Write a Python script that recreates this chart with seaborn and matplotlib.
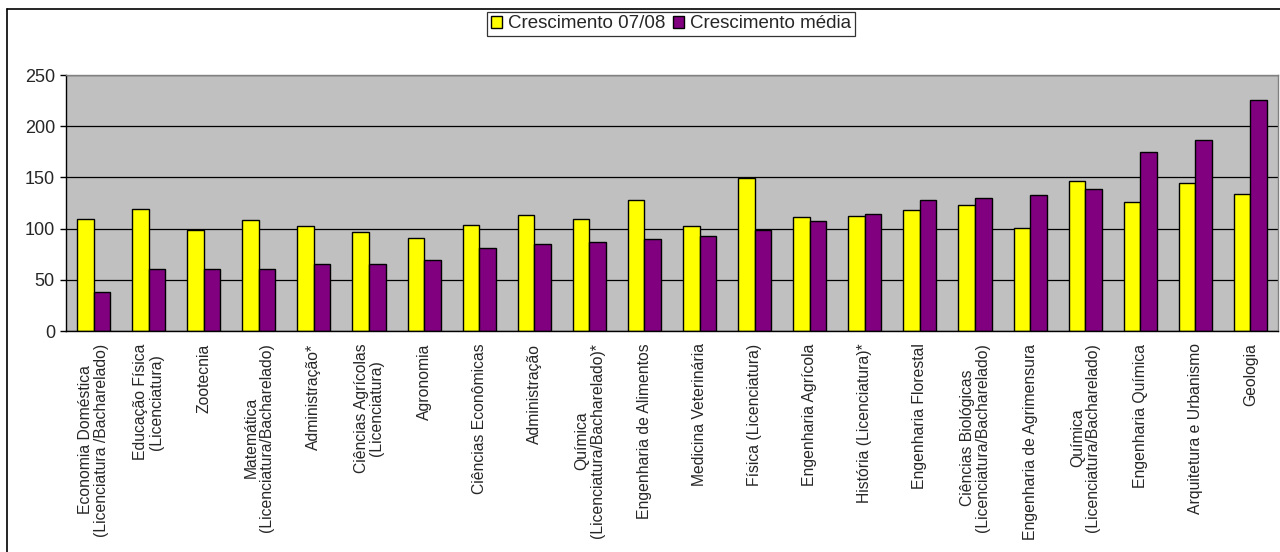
import matplotlib
matplotlib.use("Agg")
import matplotlib.pyplot as plt
import numpy as np
import pandas as pd
import seaborn as sns
from matplotlib.lines import Line2D

#####################################
# Data
#####################################

courses = [
    "Economia Doméstica\n(Licenciatura /Bacharelado)",
    "Educação Física\n(Licenciatura)",
    "Zootecnia",
    "Matemática\n(Licenciatura/Bacharelado)",
    "Administração*",
    "Ciências Agrícolas\n(Licenciatura)",
    "Agronomia",
    "Ciências Econômicas",
    "Administração",
    "Química\n(Licenciatura/Bacharelado)*",
    "Engenharia de Alimentos",
    "Medicina Veterinária",
    "Física (Licenciatura)",
    "Engenharia Agrícola",
    "História (Licenciatura)*",
    "Engenharia Florestal",
    "Ciências Biológicas\n(Licenciatura/Bacharelado)",
    "Engenharia de Agrimensura",
    "Química\n(Licenciatura/Bacharelado)",
    "Engenharia Química",
    "Arquitetura e Urbanismo",
    "Geologia",
]
growth_0708 = [109, 119, 99, 108, 103, 97, 91, 104, 113, 109, 128, 103,
               149, 111, 112, 118, 123, 101, 146, 126, 145, 134]
growth_mean = [38, 61, 61, 61, 65, 65, 69, 81, 85, 87, 90, 93,
               99, 107, 114, 128, 130, 133, 139, 175, 187, 226]
series_names = ["Crescimento 07/08", "Crescimento média"]
y_ticks = [0, 50, 100, 150, 200, 250]

#####################################
# Plot
#####################################

df = pd.DataFrame({
    "curso": courses * 2,
    "valor": growth_0708 + growth_mean,
    "serie": [series_names[0]] * len(courses) + [series_names[1]] * len(courses),
})

sns.set_style("white")
plt.rcParams["font.family"] = ["Liberation Sans", "DejaVu Sans"]

fig = plt.figure(figsize=(12.8, 5.52), dpi=100)
ax = fig.add_axes([66 / 1280, 1 - 331 / 552, (1278 - 66) / 1280, (331 - 75) / 552])

sns.barplot(
    data=df, x="curso", y="valor", hue="serie",
    palette=["#FFFF00", "#800080"], width=0.6,
    edgecolor="black", linewidth=1.0, saturation=1, ax=ax, legend=True,
)

ax.set_facecolor("#C0C0C0")
ax.set_ylim(0, 250)
ax.set_xlim(-0.5, len(courses) - 0.5)
ax.set_yticks(y_ticks)
ax.set_yticklabels([str(t) for t in y_ticks], fontsize=13)
ax.yaxis.grid(True, color="black", linewidth=0.9)
ax.set_axisbelow(True)
ax.set_xlabel("")
ax.set_ylabel("")

# category labels centred, tick marks between categories
ax.set_xticks(range(len(courses)))
ax.set_xticklabels(courses, rotation=90, fontsize=11.3, ha="center", va="top",
                   multialignment="center", linespacing=1.05)
ax.tick_params(axis="x", which="major", length=0, pad=9)
ax.set_xticks(np.arange(-0.5, len(courses), 1), minor=True)
ax.tick_params(axis="x", which="minor", length=5, color="black", width=1, direction="out")
ax.tick_params(axis="y", length=4, color="black", width=1, direction="out", left=True, pad=4)

for side in ["left", "bottom"]:
    ax.spines[side].set_color("black")
    ax.spines[side].set_linewidth(1.0)
for side in ["top", "right"]:
    ax.spines[side].set_color("#808080")
    ax.spines[side].set_linewidth(1.0)

# legend box on top
handles, labels = ax.get_legend_handles_labels()
ax.get_legend().remove()
leg = fig.legend(
    handles, labels, loc="center", bbox_to_anchor=(671 / 1280, 1 - 24 / 552),
    ncol=2, fontsize=13.5, frameon=True, fancybox=False, edgecolor="black",
    handlelength=0.6, handleheight=0.6, handletextpad=0.3, columnspacing=0.4,
    borderpad=0.2, borderaxespad=0,
)
leg.get_frame().set_linewidth(0.9)

# outer chart border: only left and top edges are visible
fig.add_artist(Line2D([7 / 1280, 7 / 1280], [0, 1 - 9 / 552],
                      transform=fig.transFigure, color="black", linewidth=1.2))
fig.add_artist(Line2D([7 / 1280, 1], [1 - 9 / 552, 1 - 9 / 552],
                      transform=fig.transFigure, color="black", linewidth=1.2))

fig.savefig("out.png", dpi=100, facecolor="white")
